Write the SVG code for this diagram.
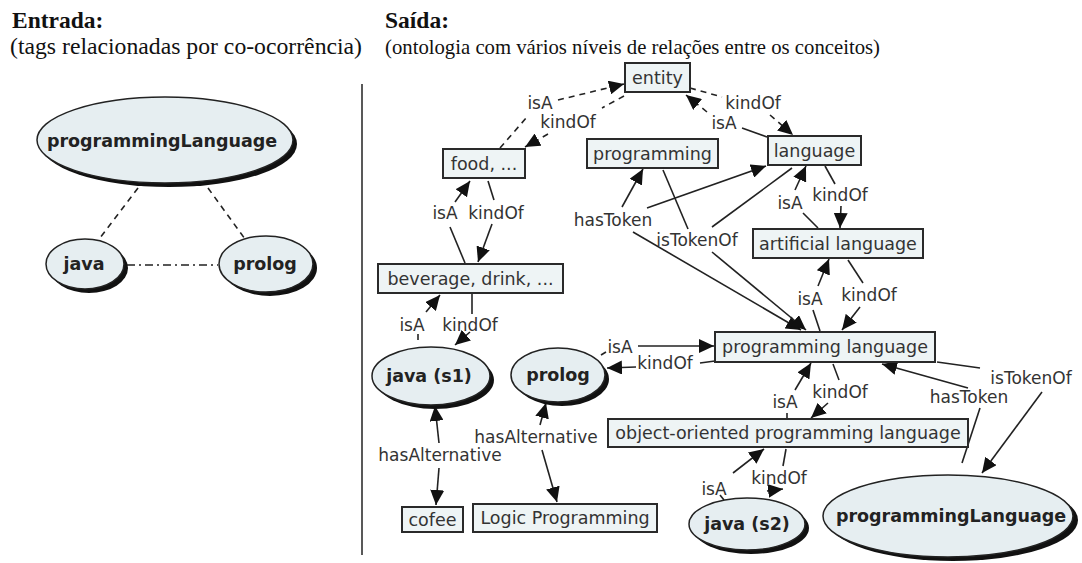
<svg xmlns="http://www.w3.org/2000/svg" width="1082" height="563" viewBox="0 0 1082 563">
  <style>
    .hdr { font-family: "Liberation Serif", "Times New Roman", serif; font-size: 23.5px; fill: #111; }
    .hdrr { font-family: "Liberation Serif", "Times New Roman", serif; font-size: 22px; fill: #111; }
    .hdrb { font-weight: bold; }
    .box { fill: #eef4f5; stroke: #2a2a2a; stroke-width: 2; }
    .ell { fill: #e6eef1; stroke: #222; stroke-width: 1.5; }
    .ellsh { fill: #111; }
    .nt { font-family: "DejaVu Sans", Verdana, sans-serif; font-size: 17.5px; fill: #333; text-anchor: middle; }
    .et { font-family: "DejaVu Sans", Verdana, sans-serif; font-size: 17.5px; font-weight: bold; fill: #222; text-anchor: middle; }
    .lt { font-family: "DejaVu Sans", Verdana, sans-serif; font-size: 17px; fill: #333; text-anchor: middle; }
    .ln { fill: none; stroke: #222; stroke-width: 1.6; }
    .dash { stroke-dasharray: 6 5; }
    .dd { stroke-dasharray: 8 4 2 4; }
    .arr { marker-end: url(#ah); }
  </style>
  <defs>
    <marker id="ah" markerUnits="userSpaceOnUse" markerWidth="16" markerHeight="14" refX="15" refY="7" orient="auto">
      <path d="M0,0 L15,7 L0,14 z" fill="#111"/>
    </marker>
  </defs>

  <rect width="1082" height="563" fill="#ffffff"/>

  <!-- headings -->
  <text class="hdr hdrb" x="12" y="28">Entrada:</text>
  <text class="hdr" x="10" y="54" textLength="352" lengthAdjust="spacingAndGlyphs">(tags relacionadas por co-ocorrência)</text>
  <text class="hdr hdrb" x="385" y="28">Saída:</text>
  <text class="hdrr" x="385" y="54" textLength="495" lengthAdjust="spacingAndGlyphs">(ontologia com vários níveis de relações entre os conceitos)</text>

  <!-- divider -->
  <line x1="362" y1="84" x2="362" y2="555" stroke="#222" stroke-width="1.5"/>

  <!-- connectors -->
  <g id="connectors">
    <!-- input graph -->
    <line class="ln dash" x1="138" y1="188" x2="100" y2="238"/>
    <line class="ln dash" x1="208" y1="188" x2="245" y2="239"/>
    <line class="ln dd" x1="127" y1="265" x2="218" y2="265"/>

    <!-- entity / food -->
    <line class="ln dash" x1="500" y1="148" x2="527" y2="117"/>
    <line class="ln dash arr" x1="558" y1="100" x2="624" y2="84"/>
    <line class="ln dash" x1="624" y1="96" x2="602" y2="108"/>
    <line class="ln dash arr" x1="548" y1="134" x2="525" y2="147"/>
    <!-- entity / language -->
    <line class="ln dash" x1="690" y1="88" x2="722" y2="97"/>
    <line class="ln dash arr" x1="770" y1="115" x2="793" y2="135"/>
    <line class="ln" x1="767" y1="137" x2="742" y2="128"/>
    <line class="ln dash arr" x1="707" y1="112" x2="686" y2="95"/>

    <!-- food / beverage -->
    <line class="ln" x1="465" y1="263" x2="450" y2="227"/>
    <line class="ln arr" x1="455" y1="202" x2="470" y2="181"/>
    <line class="ln" x1="488" y1="181" x2="494" y2="200"/>
    <line class="ln arr" x1="492" y1="224" x2="478" y2="262"/>

    <!-- beverage / java (s1) -->
    <line class="ln" x1="418" y1="340" x2="418" y2="334"/>
    <line class="ln arr" x1="426" y1="312" x2="440" y2="295"/>
    <line class="ln" x1="472" y1="294" x2="472" y2="314"/>
    <line class="ln arr" x1="470" y1="332" x2="455" y2="345"/>

    <!-- hasAlternative -->
    <line class="ln arr" x1="439" y1="443" x2="435" y2="406"/>
    <line class="ln arr" x1="439" y1="468" x2="436" y2="505"/>
    <line class="ln arr" x1="540" y1="425" x2="546" y2="403"/>
    <line class="ln arr" x1="542" y1="450" x2="557" y2="502"/>

    <!-- prolog / programming language -->
    <line class="ln" x1="601" y1="355" x2="606" y2="352"/>
    <line class="ln arr" x1="638" y1="346" x2="714" y2="346"/>
    <line class="ln" x1="715" y1="361" x2="700" y2="363"/>
    <line class="ln arr" x1="636" y1="367" x2="607" y2="368"/>

    <!-- hasToken / isTokenOf (programming, language) -->
    <line class="ln arr" x1="622" y1="207" x2="643" y2="169"/>
    <line class="ln arr" x1="647" y1="208" x2="766" y2="166"/>
    <line class="ln arr" x1="633" y1="232" x2="801" y2="330"/>
    <line class="ln" x1="663" y1="170" x2="688" y2="229"/>
    <line class="ln" x1="792" y1="168" x2="712" y2="227"/>
    <line class="ln arr" x1="712" y1="252" x2="806" y2="330"/>

    <!-- language / artificial language -->
    <line class="ln" x1="818" y1="228" x2="803" y2="213"/>
    <line class="ln arr" x1="795" y1="190" x2="806" y2="166"/>
    <line class="ln" x1="825" y1="166" x2="835" y2="184"/>
    <line class="ln arr" x1="841" y1="206" x2="840" y2="228"/>

    <!-- artificial language / programming language -->
    <line class="ln" x1="820" y1="331" x2="813" y2="310"/>
    <line class="ln arr" x1="818" y1="286" x2="829" y2="259"/>
    <line class="ln" x1="848" y1="260" x2="863" y2="283"/>
    <line class="ln arr" x1="860" y1="307" x2="842" y2="330"/>

    <!-- programming language / object-oriented -->
    <line class="ln" x1="787" y1="418" x2="787" y2="413"/>
    <line class="ln arr" x1="795" y1="390" x2="811" y2="363"/>
    <line class="ln" x1="833" y1="364" x2="839" y2="380"/>
    <line class="ln arr" x1="828" y1="403" x2="811" y2="418"/>

    <!-- object-oriented / java (s2) -->
    <line class="ln" x1="724" y1="500" x2="720" y2="495"/>
    <line class="ln arr" x1="733" y1="473" x2="764" y2="449"/>
    <line class="ln" x1="786" y1="449" x2="783" y2="466"/>
    <line class="ln arr" x1="767" y1="491" x2="783" y2="489"/>

    <!-- programming language / programmingLanguage -->
    <line class="ln" x1="937" y1="362" x2="980" y2="368"/>
    <line class="ln arr" x1="1042" y1="392" x2="982" y2="473"/>
    <line class="ln" x1="962" y1="463" x2="980" y2="408"/>
    <line class="ln arr" x1="968" y1="388" x2="882" y2="364"/>
  </g>

  <!-- link labels -->
  <g id="labels">
    <text class="lt" x="540" y="109">isA</text>
    <text class="lt" x="568" y="128">kindOf</text>
    <text class="lt" x="753" y="109">kindOf</text>
    <text class="lt" x="724" y="129">isA</text>
    <text class="lt" x="445" y="219">isA</text>
    <text class="lt" x="496" y="219">kindOf</text>
    <text class="lt" x="412" y="331">isA</text>
    <text class="lt" x="470" y="331">kindOf</text>
    <text class="lt" x="440" y="461">hasAlternative</text>
    <text class="lt" x="536" y="443">hasAlternative</text>
    <text class="lt" x="620" y="353">isA</text>
    <text class="lt" x="665" y="369">kindOf</text>
    <text class="lt" x="613" y="226">hasToken</text>
    <text class="lt" x="697" y="246">isTokenOf</text>
    <text class="lt" x="790" y="209">isA</text>
    <text class="lt" x="840" y="201">kindOf</text>
    <text class="lt" x="810" y="305">isA</text>
    <text class="lt" x="869" y="301">kindOf</text>
    <text class="lt" x="785" y="408">isA</text>
    <text class="lt" x="840" y="398">kindOf</text>
    <text class="lt" x="714" y="495">isA</text>
    <text class="lt" x="779" y="484">kindOf</text>
    <text class="lt" x="1031" y="384">isTokenOf</text>
    <text class="lt" x="969" y="403">hasToken</text>
  </g>

  <!-- input nodes -->
  <g id="in-programmingLanguage">
    <ellipse class="ellsh" cx="169" cy="144" rx="128" ry="43"/>
    <ellipse class="ell" cx="165" cy="140" rx="128" ry="43"/>
    <text class="et" x="162" y="147">programmingLanguage</text>
  </g>
  <g id="in-java">
    <ellipse class="ellsh" cx="89" cy="268" rx="39" ry="25"/>
    <ellipse class="ell" cx="85" cy="264" rx="39" ry="25"/>
    <text class="et" x="84" y="270">java</text>
  </g>
  <g id="in-prolog">
    <ellipse class="ellsh" cx="270" cy="268" rx="47" ry="28"/>
    <ellipse class="ell" cx="266" cy="264" rx="47" ry="28"/>
    <text class="et" x="265" y="270">prolog</text>
  </g>

  <!-- ontology concept boxes -->
  <g id="entity">
    <rect class="box" x="625" y="63" width="65" height="29"/>
    <text class="nt" x="657.5" y="84">entity</text>
  </g>
  <g id="food">
    <rect class="box" x="443" y="149" width="82" height="29"/>
    <text class="nt" x="484" y="170">food, ...</text>
  </g>
  <g id="programming">
    <rect class="box" x="587" y="139" width="131" height="29"/>
    <text class="nt" x="652.5" y="160">programming</text>
  </g>
  <g id="language">
    <rect class="box" x="768" y="136" width="93" height="29"/>
    <text class="nt" x="814.5" y="157">language</text>
  </g>
  <g id="beverage">
    <rect class="box" x="378" y="264" width="185" height="29"/>
    <text class="nt" x="470.5" y="285">beverage, drink, ...</text>
  </g>
  <g id="artificial-language">
    <rect class="box" x="753" y="229" width="170" height="29"/>
    <text class="nt" x="838" y="250">artificial language</text>
  </g>
  <g id="programming-language">
    <rect class="box" x="715" y="332" width="220" height="30"/>
    <text class="nt" x="825" y="353">programming language</text>
  </g>
  <g id="oo-programming-language">
    <rect class="box" x="608" y="419" width="360" height="28"/>
    <text class="nt" x="788" y="439">object-oriented programming language</text>
  </g>
  <g id="cofee">
    <rect class="box" x="402" y="507" width="61" height="25"/>
    <text class="nt" x="432.5" y="526">cofee</text>
  </g>
  <g id="logic-programming">
    <rect class="box" x="473" y="504" width="184" height="28"/>
    <text class="nt" x="565" y="524">Logic Programming</text>
  </g>

  <!-- ontology tag ellipses -->
  <g id="java-s1">
    <ellipse class="ellsh" cx="435" cy="380" rx="59" ry="29"/>
    <ellipse class="ell" cx="431" cy="376" rx="59" ry="29"/>
    <text class="et" x="429" y="382">java (s1)</text>
  </g>
  <g id="prolog">
    <ellipse class="ellsh" cx="562" cy="379" rx="47" ry="27"/>
    <ellipse class="ell" cx="558" cy="375" rx="47" ry="27"/>
    <text class="et" x="558" y="381">prolog</text>
  </g>
  <g id="java-s2">
    <ellipse class="ellsh" cx="751" cy="528" rx="58" ry="26"/>
    <ellipse class="ell" cx="747" cy="524" rx="58" ry="26"/>
    <text class="et" x="747" y="530">java (s2)</text>
  </g>
  <g id="programmingLanguage">
    <ellipse class="ellsh" cx="953" cy="520" rx="125" ry="41"/>
    <ellipse class="ell" cx="948" cy="516" rx="125" ry="41"/>
    <text class="et" x="951" y="522">programmingLanguage</text>
  </g>
</svg>
